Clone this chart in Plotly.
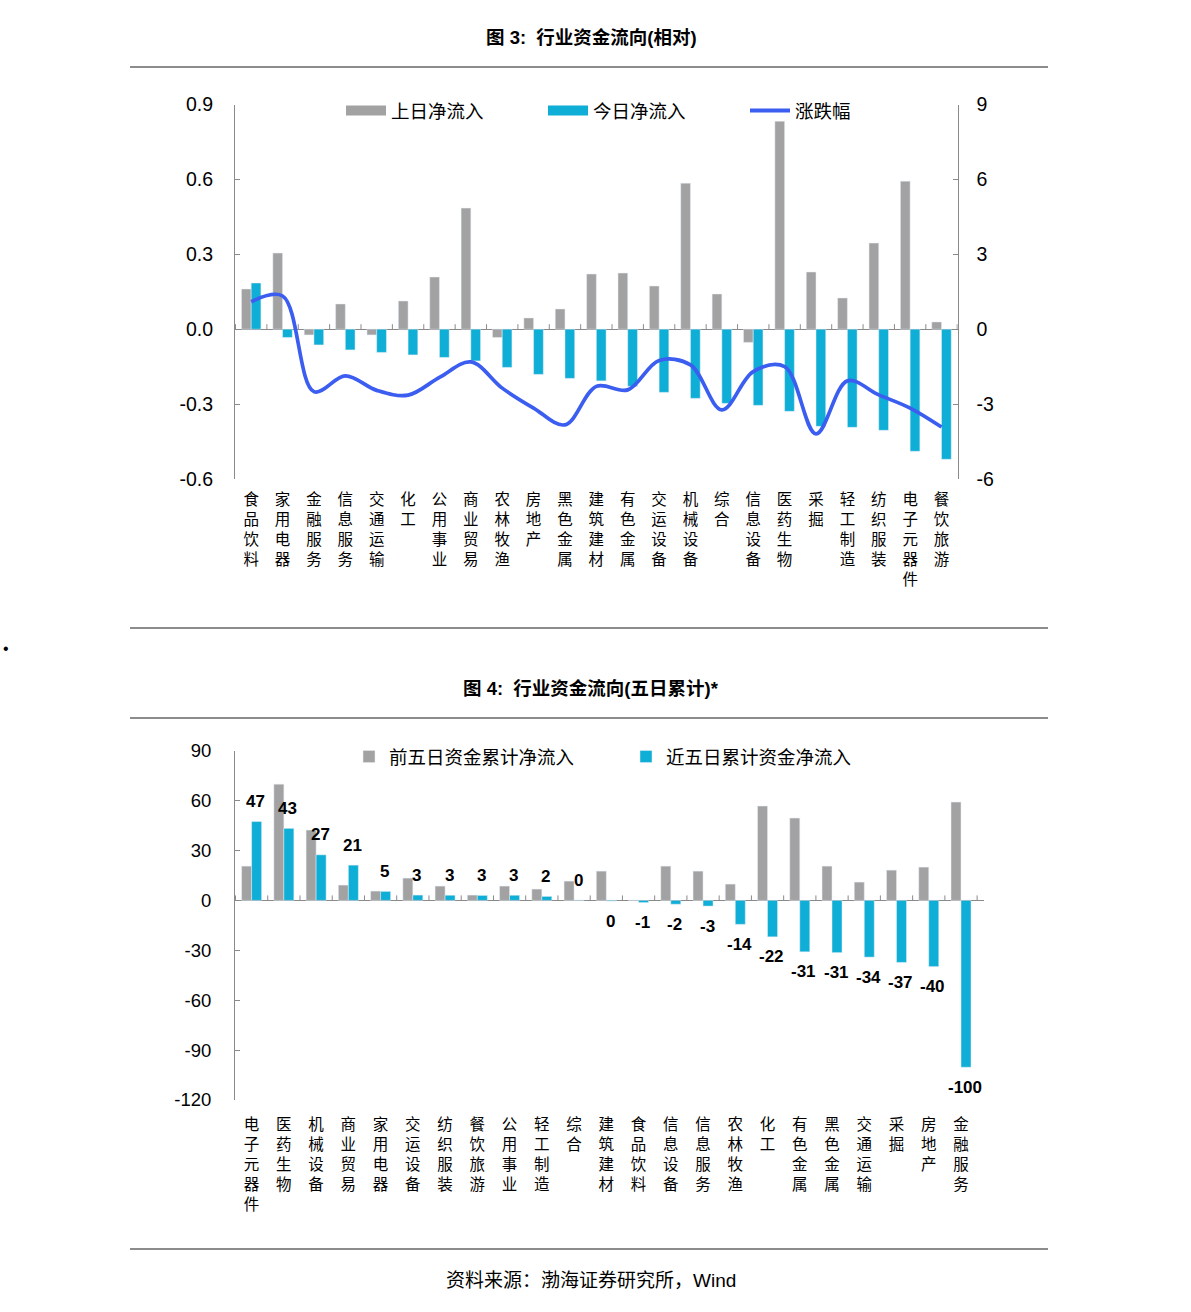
import plotly.graph_objects as go

W, H = 1191, 1312

# ---------------- Figure 3 data ----------------
cats3 = ["食品饮料", "家用电器", "金融服务", "信息服务", "交通运输", "化工", "公用事业",
         "商业贸易", "农林牧渔", "房地产", "黑色金属", "建筑建材", "有色金属", "交运设备",
         "机械设备", "综合", "信息设备", "医药生物", "采掘", "轻工制造", "纺织服装",
         "电子元器件", "餐饮旅游"]
prev_day_inflow = [0.161, 0.305, -0.023, 0.101, -0.023, 0.113, 0.209, 0.485, -0.033, 0.045,
                   0.081, 0.221, 0.225, 0.173, 0.585, 0.141, -0.053, 0.833, 0.229, 0.125,
                   0.345, 0.593, 0.029]
today_inflow = [0.185, -0.033, -0.063, -0.083, -0.093, -0.103, -0.113, -0.127, -0.153, -0.181,
                -0.197, -0.207, -0.229, -0.253, -0.277, -0.297, -0.305, -0.329, -0.389, -0.393,
                -0.405, -0.489, -0.521]
pct_change = [1.1, 1.33, -2.5, -1.87, -2.45, -2.64, -1.93, -1.31, -2.36, -3.16, -3.83, -2.29,
              -2.43, -1.25, -1.43, -3.23, -1.7, -1.5, -4.19, -2.07, -2.63, -3.16, -3.92]
y3_left_ticks = [-0.6, -0.3, 0.0, 0.3, 0.6, 0.9]
y3_right_ticks = [-6, -3, 0, 3, 6, 9]

# ---------------- Figure 4 data ----------------
cats4 = ["电子元器件", "医药生物", "机械设备", "商业贸易", "家用电器", "交运设备", "纺织服装",
         "餐饮旅游", "公用事业", "轻工制造", "综合", "建筑建材", "食品饮料", "信息设备",
         "信息服务", "农林牧渔", "化工", "有色金属", "黑色金属", "交通运输", "采掘", "房地产",
         "金融服务"]
prev5_inflow = [20.6, 69.9, 42.3, 9.2, 5.6, 13.4, 8.6, 3.2, 8.6, 6.8, 11.6, 17.6, 0.2, 20.6,
                17.6, 9.8, 56.7, 49.5, 20.6, 11.0, 18.2, 20.0, 59.1]
recent5_inflow = [47.4, 43.3, 27.4, 21.2, 5.4, 3.2, 3.1, 3.0, 3.1, 2.4, 0.2, -0.4, -1.3, -2.3,
                  -3.4, -14.4, -21.9, -30.9, -31.4, -34.1, -37.3, -39.8, -100.3]
y4_ticks = [-120, -90, -60, -30, 0, 30, 60, 90]

GRAY = "#a2a2a2"
CYAN = "#0eaed6"
BLUE = "#3b5df0"
AXIS = "#8a8a8a"
FONT = "Liberation Sans, Arial, Noto Sans CJK SC, sans-serif"
CJK = "Noto Sans CJK SC, sans-serif"


def vert(s):
    return "<br>".join(list(s))


def px(x):
    return x / W


def py(y):
    return 1 - y / H


fig = go.Figure()

# ---- top chart ----
fig.add_trace(go.Bar(name="上日净流入", x=cats3, y=prev_day_inflow, marker_color=GRAY,
                     xaxis="x", yaxis="y", showlegend=False))
fig.add_trace(go.Bar(name="今日净流入", x=cats3, y=today_inflow, marker_color=CYAN,
                     xaxis="x", yaxis="y", showlegend=False))
fig.add_trace(go.Scatter(name="涨跌幅", x=cats3, y=pct_change, mode="lines",
                         line=dict(color=BLUE, width=3.7, shape="spline", smoothing=1.0),
                         xaxis="x", yaxis="y2", showlegend=False))
# legend entries (wide rectangle keys like the original)
for nm, col, w in (("上日净流入", GRAY, 10), ("今日净流入", CYAN, 10), ("涨跌幅", BLUE, 4)):
    fig.add_trace(go.Scatter(name=nm, x=[None], y=[None], mode="lines",
                             line=dict(color=col, width=w), xaxis="x", yaxis="y",
                             legend="legend", showlegend=True))

# ---- bottom chart ----
fig.add_trace(go.Bar(name="前五日资金累计净流入", x=cats4, y=prev5_inflow, marker_color=GRAY,
                     xaxis="x2", yaxis="y3", legend="legend2"))
fig.add_trace(go.Bar(name="近五日累计资金净流入", x=cats4, y=recent5_inflow, marker_color=CYAN,
                     xaxis="x2", yaxis="y3", legend="legend2"))

shapes = []
for yy in (67, 628, 718, 1249):
    shapes.append(dict(type="line", xref="paper", yref="paper", x0=px(130), x1=px(1048),
                       y0=py(yy), y1=py(yy), line=dict(color="#8c8c8c", width=2)))
for i in range(len(cats3) + 1):
    shapes.append(dict(type="line", xref="x", yref="y", x0=i - 0.5, x1=i - 0.5,
                       ysizemode="pixel", yanchor=0, y0=0, y1=5,
                       line=dict(color=AXIS, width=1)))
for i in range(len(cats4) + 1):
    shapes.append(dict(type="line", xref="x2", yref="y3", x0=i - 0.5, x1=i - 0.5,
                       ysizemode="pixel", yanchor=0, y0=0, y1=5,
                       line=dict(color=AXIS, width=1)))

annotations = [
    dict(text="<b>图 3:\u00a0\u00a0行业资金流向(相对)</b>", x=px(591), y=py(37), xref="paper",
         yref="paper", showarrow=False, xanchor="center", yanchor="middle",
         font=dict(family=FONT, size=18.5, color="black")),
    dict(text="<b>图 4:\u00a0\u00a0行业资金流向(五日累计)*</b>", x=px(591), y=py(688), xref="paper",
         yref="paper", showarrow=False, xanchor="center", yanchor="middle",
         font=dict(family=FONT, size=18.5, color="black")),
    dict(text="•", x=px(6), y=py(648), xref="paper", yref="paper", showarrow=False,
         xanchor="center", yanchor="middle", font=dict(family=FONT, size=16, color="black")),
    dict(text="资料来源：渤海证券研究所，Wind", x=px(591), y=py(1280), xref="paper", yref="paper",
         showarrow=False, xanchor="center", yanchor="middle",
         font=dict(family=FONT, size=19, color="black")),
]
# value labels for the recent five-day bars
for c, v in zip(cats4, recent5_inflow):
    annotations.append(dict(text=f"<b>{round(v)}</b>", x=c, y=v, xref="x2", yref="y3",
                            showarrow=False, xanchor="center", yanchor="middle",
                            xshift=4, yshift=20 if v >= 0 else -20,
                            font=dict(family=FONT, size=17, color="black")))

fig.update_layout(
    width=W, height=H,
    margin=dict(l=0, r=0, t=0, b=0, autoexpand=False),
    paper_bgcolor="white", plot_bgcolor="white",
    font=dict(family=FONT, size=17, color="black"),
    barmode="group", bargap=0.38, bargroupgap=0,
    shapes=shapes, annotations=annotations,
    legend=dict(orientation="h", x=px(341), y=py(111), xanchor="left", yanchor="middle",
                bgcolor="rgba(0,0,0,0)", font=dict(family=CJK, size=18.5),
                entrywidth=147, entrywidthmode="pixels", itemwidth=40, traceorder="normal"),
    legend2=dict(orientation="h", x=px(349), y=py(757), xanchor="left", yanchor="middle",
                 bgcolor="rgba(0,0,0,0)", font=dict(family=CJK, size=18.5),
                 entrywidth=232, entrywidthmode="pixels", traceorder="normal"),
    xaxis=dict(domain=[px(235), px(957.7)], anchor="y", type="category",
               tickvals=cats3, ticktext=[vert(c) for c in cats3], tickangle=0,
               showline=False, showgrid=False, zeroline=False, ticks="",
               tickfont=dict(family=CJK, size=15.5), ticklabelstandoff=9),
    yaxis=dict(domain=[py(479), py(104.5)], range=[-0.6, 0.9], anchor="x",
               tickvals=y3_left_ticks, ticktext=[f"{v:.1f}" for v in y3_left_ticks],
               showline=True, linecolor=AXIS, linewidth=1, ticks="inside", ticklen=5,
               tickcolor=AXIS, showgrid=False, zeroline=True, zerolinecolor=AXIS,
               zerolinewidth=1, tickfont=dict(size=19.5), ticklabelstandoff=17),
    yaxis2=dict(range=[-6, 9], overlaying="y", side="right", anchor="x",
                tickvals=y3_right_ticks, ticktext=[str(v) for v in y3_right_ticks],
                showline=True, linecolor=AXIS, linewidth=1, ticks="inside", ticklen=5,
                tickcolor=AXIS, showgrid=False, zeroline=False, tickfont=dict(size=19.5),
                ticklabelstandoff=14),
    xaxis2=dict(domain=[px(235), px(984)], anchor="y3", type="category",
                tickvals=cats4, ticktext=[vert(c) for c in cats4], tickangle=0,
                showline=False, showgrid=False, zeroline=False, ticks="",
                tickfont=dict(family=CJK, size=15.5), ticklabelstandoff=13),
    yaxis3=dict(domain=[py(1100), py(750.7)], range=[-120, 90], anchor="x2",
                tickvals=y4_ticks, ticktext=[str(v) for v in y4_ticks],
                showline=True, linecolor=AXIS, linewidth=1, ticks="inside", ticklen=5,
                tickcolor=AXIS, showgrid=False, zeroline=True, zerolinecolor=AXIS,
                zerolinewidth=1, tickfont=dict(size=18.5), ticklabelstandoff=19),
)

fig.write_html("out.html", config={"displayModeBar": False},
               post_script="document.body.style.margin='0';")
